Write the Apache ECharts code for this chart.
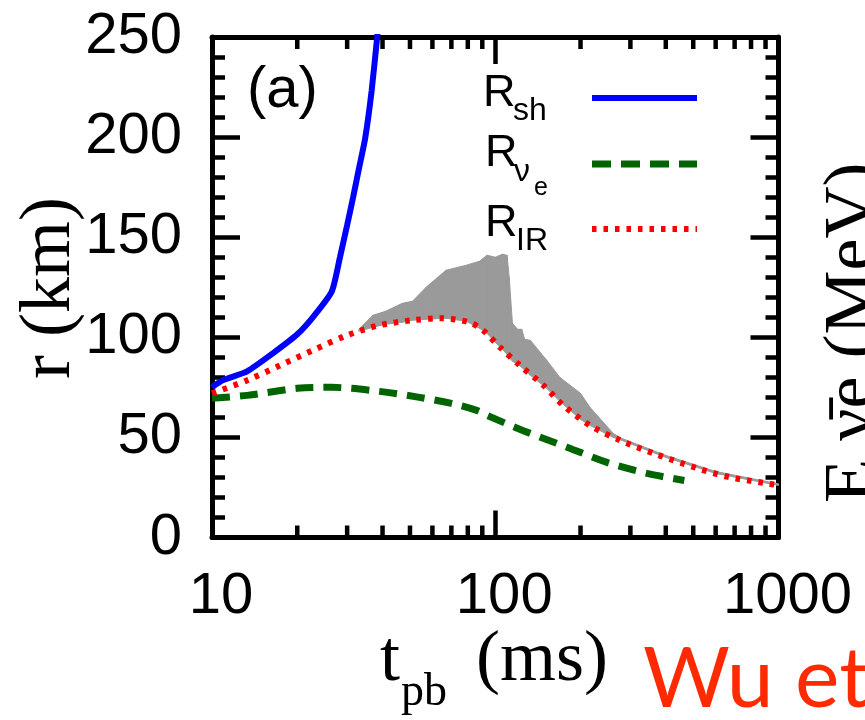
<!DOCTYPE html>
<html><head><meta charset="utf-8">
<script src="https://cdn.jsdelivr.net/npm/echarts@6/dist/echarts.min.js"></script>
<style>html,body{margin:0;padding:0;background:#fff}#c{width:865px;height:720px}</style>
</head><body><div id="c"></div>
<script>
// shock radius R_sh
const shT = [10, 10.9, 13.3, 16.4, 20, 23, 26.5, 28.3, 30, 31.5, 33.1, 34.7, 36.6, 38.3, 39];
const shR = [75, 78.5, 83, 92, 101.5, 111, 123, 140, 156, 170, 185, 199, 223, 250, 262];
// neutrinosphere R_nu_e
const nuT = [10, 13.3, 20, 26.5, 39, 54, 70, 86, 93.5, 125, 180, 248, 344, 465];
const nuR = [69.5, 71, 74.5, 75, 73, 70, 67, 63.5, 61, 53.5, 45, 37.5, 32, 28.5];
// R_IR
const irT = [10, 13.3, 17.4, 22.7, 30, 39, 51, 64, 81, 90.5, 104, 122, 148, 174, 216, 276, 363, 519, 678, 913, 1000];
const irR = [72, 78.5, 86, 93.5, 101, 106, 108.5, 109.5, 107.5, 103.5, 95, 86, 76, 66, 56, 48.5, 42, 34.5, 30, 27, 26];
// grey band (lower / upper envelope)
const grayT  = [33, 37, 41, 47, 51, 57, 67, 79, 88, 93.5, 100, 106, 110, 112, 115, 120, 124, 127, 133, 152, 169, 200, 216, 261, 280, 400, 600, 1000];
const grayLo = [103, 105, 106.5, 107.5, 108.5, 109, 109.5, 108, 104.5, 102, 97.5, 94, 91.5, 90, 88, 86.5, 85, 83.5, 81, 74.5, 68, 59, 56, 50, 48.5, 40, 32, 26];
const grayHi = [104, 111, 113, 117, 118, 125, 133.5, 136, 138, 141, 140, 141.5, 141, 130, 107, 104, 104, 99, 98.5, 88.5, 80, 72, 65, 52, 49.5, 41, 33, 26.8];
// axis ticks
const xMinorTicks = [20, 30, 40, 50, 60, 70, 80, 90, 200, 300, 400, 500, 600, 700, 800, 900];
const yTicks = [0, 50, 100, 150, 200, 250];
const xTicks = [10, 100, 1000];

const chart = echarts.init(document.getElementById('c'), null, {renderer: 'canvas'});
const SANS = '"Liberation Sans", Arial, Helvetica, sans-serif';
const SERIF = '"Liberation Serif", "Times New Roman", serif';

const zip = (a, b) => a.map((v, i) => [v, b[i]]);
const bandSegs = [];
for (let i = 0; i < grayT.length - 1; i++) {
  bandSegs.push([grayT[i], grayLo[i], grayHi[i], grayT[i + 1], grayLo[i + 1], grayHi[i + 1]]);
}

const axisLineStyle = {color: '#000', width: 5};
const tickStyle = {color: '#000', width: 4.5};

const option = {
  animation: false,
  backgroundColor: '#fff',
  grid: {left: 212, top: 37, right: 86.5, bottom: 182.5, containLabel: false},
  xAxis: [
    {type: 'log', logBase: 10, min: xTicks[0], max: xTicks[xTicks.length - 1], position: 'bottom',
     axisLine: {show: true, onZero: false, lineStyle: axisLineStyle},
     axisTick: {show: true, inside: true, length: 27, lineStyle: tickStyle},
     minorTick: {show: false}, splitLine: {show: false},
     axisLabel: {show: true, margin: 30, fontSize: 58, fontFamily: SANS, color: '#000', padding: [0, 0, 0, 18],
                 formatter: v => String(v)}},
    {type: 'log', logBase: 10, min: xTicks[0], max: xTicks[xTicks.length - 1], position: 'top',
     axisLine: {show: true, onZero: false, lineStyle: axisLineStyle},
     axisTick: {show: true, inside: true, length: 27, lineStyle: tickStyle},
     splitLine: {show: false}, axisLabel: {show: false}}
  ],
  yAxis: [
    {type: 'value', min: yTicks[0], max: yTicks[yTicks.length - 1], interval: 50, position: 'left',
     axisLine: {show: true, onZero: false, lineStyle: axisLineStyle},
     axisTick: {show: true, inside: true, length: 28, lineStyle: tickStyle},
     minorTick: {show: true, splitNumber: 5, length: 13, lineStyle: tickStyle},
     splitLine: {show: false}, minorSplitLine: {show: false},
     axisLabel: {show: true, margin: 30, fontSize: 58, fontFamily: SANS, color: '#000'}},
    {type: 'value', min: yTicks[0], max: yTicks[yTicks.length - 1], interval: 50, position: 'right',
     axisLine: {show: true, onZero: false, lineStyle: axisLineStyle},
     axisTick: {show: true, inside: true, length: 28, lineStyle: tickStyle},
     minorTick: {show: true, splitNumber: 5, length: 13, lineStyle: tickStyle},
     splitLine: {show: false}, minorSplitLine: {show: false},
     axisLabel: {show: false}}
  ],
  series: [
    {name: 'band', type: 'custom', data: bandSegs, silent: true, z: 1, clip: true,
     encode: {x: [0, 3], y: [1, 2, 4, 5]},
     renderItem: function (params, api) {
       const p1 = api.coord([api.value(0), api.value(1)]);
       const p2 = api.coord([api.value(0), api.value(2)]);
       const p3 = api.coord([api.value(3), api.value(5)]);
       const p4 = api.coord([api.value(3), api.value(4)]);
       return {type: 'polygon', shape: {points: [p1, p2, p3, p4]},
               style: {fill: '#9a9a9a', stroke: '#9a9a9a', lineWidth: 1}};
     }},
    {name: 'R_nue', type: 'line', data: zip(nuT, nuR), symbol: 'none', smooth: 0.3,
     lineStyle: {color: '#006400', width: 7, type: [18, 10], cap: 'butt'}, z: 3},
    {name: 'R_IR', type: 'line', data: zip(irT, irR), symbol: 'none', smooth: 0.3,
     lineStyle: {color: '#ff0000', width: 6, type: [4.5, 7], cap: 'butt'}, z: 4},
    {name: 'R_sh', type: 'line', data: zip(shT, shR), symbol: 'none', smooth: 0.2,
     lineStyle: {color: '#0000ff', width: 6}, z: 5},
    {name: 'minorTicks', type: 'custom', data: xMinorTicks.map(v => [v, 0]), silent: true, z: 10, clip: false,
     renderItem: function (params, api) {
       const x = api.coord([api.value(0), 0])[0];
       const cs = params.coordSys;
       const yb = cs.y + cs.height, yt = cs.y;
       return {type: 'group', children: [
         {type: 'line', shape: {x1: x, y1: yb, x2: x, y2: yb - 12}, style: {stroke: '#000', lineWidth: 4.5}},
         {type: 'line', shape: {x1: x, y1: yt, x2: x, y2: yt + 12}, style: {stroke: '#000', lineWidth: 4.5}}
       ]};
     }}
  ],
  graphic: [
    // panel label
    {type: 'text', left: 247, top: 62, style: {text: '(a)', font: '58px ' + SANS, fill: '#000'}},
    // legend
    {type: 'text', x: 483, y: 94, style: {text: 'R', font: '45px ' + SANS, fill: '#000', verticalAlign: 'middle'}},
    {type: 'text', x: 513, y: 111, style: {text: 'sh', font: '32px ' + SANS, fill: '#000', verticalAlign: 'middle'}},
    {type: 'line', z: 50, shape: {x1: 592, y1: 98, x2: 697, y2: 98}, style: {stroke: '#0000ff', lineWidth: 6}},
    {type: 'text', x: 485, y: 154, style: {text: 'R', font: '45px ' + SANS, fill: '#000', verticalAlign: 'middle'}},
    {type: 'text', x: 514, y: 172, style: {text: 'ν', font: '32px ' + SANS, fill: '#000', verticalAlign: 'middle'}},
    {type: 'text', x: 534, y: 188, style: {text: 'e', font: '25px ' + SANS, fill: '#000', verticalAlign: 'middle'}},
    {type: 'line', z: 50, shape: {x1: 592, y1: 164, x2: 697, y2: 164}, style: {stroke: '#006400', lineWidth: 7, lineDash: [19, 10]}},
    {type: 'text', x: 485, y: 224, style: {text: 'R', font: '45px ' + SANS, fill: '#000', verticalAlign: 'middle'}},
    {type: 'text', x: 516, y: 241, style: {text: 'IR', font: '32px ' + SANS, fill: '#000', verticalAlign: 'middle'}},
    {type: 'line', z: 50, shape: {x1: 592, y1: 229, x2: 697, y2: 229}, style: {stroke: '#ff0000', lineWidth: 6, lineDash: [4.5, 7]}},
    // y axis title
    {type: 'text', x: 50, y: 288, rotation: Math.PI / 2,
     style: {text: 'r (km)', font: '72px ' + SERIF, fill: '#000', align: 'center', verticalAlign: 'middle'}},
    // x axis title
    {type: 'text', x: 380, y: 661, style: {text: 't', font: '72px ' + SERIF, fill: '#000', verticalAlign: 'middle'}},
    {type: 'text', x: 401, y: 693, style: {text: 'pb', font: '46px ' + SERIF, fill: '#000', verticalAlign: 'middle'}},
    {type: 'text', x: 476, y: 661, style: {text: '(ms)', font: '72px ' + SERIF, fill: '#000', verticalAlign: 'middle'}},
    // citation fragment
    {type: 'text', x: 643, y: 680, style: {text: 'Wu et al.', font: '84px Lato, "Open Sans", sans-serif', fill: '#ff2a00', verticalAlign: 'middle'}},
    // next panel's axis title (cut off)
    {type: 'text', x: 818, y: 503, rotation: Math.PI / 2,
     style: {text: 'E ν̄e (MeV)', font: '72px ' + SERIF, fill: '#000', align: 'left', verticalAlign: 'top'}}
  ]
};
chart.setOption(option);
</script>
</body></html>
